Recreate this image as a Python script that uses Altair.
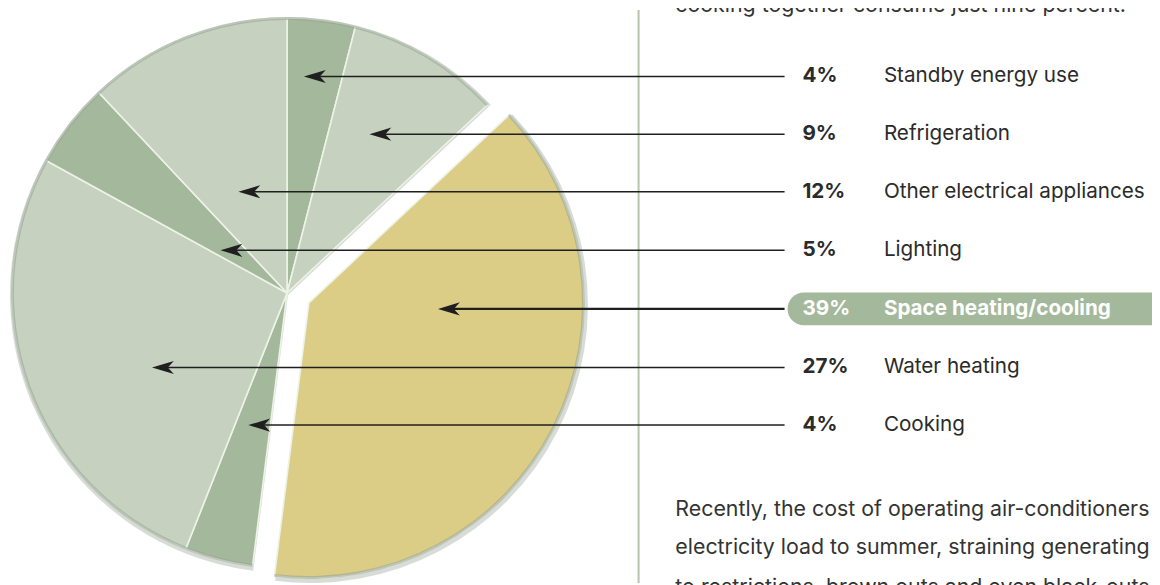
import altair as alt
import pandas as pd

# ---------------- data ----------------
pie_categories = ["Standby energy use", "Refrigeration", "Space heating/cooling",
                  "Cooking", "Water heating", "Lighting", "Other electrical appliances"]
pie_values = [4, 9, 39, 4, 27, 5, 12]
pie_colors = ["#a4b99c", "#c6d2bf", "#dccd86", "#a4b99c", "#c6d2bf", "#a4b99c", "#c6d2bf"]

row_categories = ["Standby energy use", "Refrigeration", "Other electrical appliances",
                  "Lighting", "Space heating/cooling", "Water heating", "Cooking"]
row_pcts = ["4%", "9%", "12%", "5%", "39%", "27%", "4%"]

top_text = ["cooking together consume just nine percent."]
body_text = ["Recently, the cost of operating air-conditioners",
             "electricity load to summer, straining generating",
             "to restrictions, brown outs and even black-outs"]

# ---------------- layout ----------------
W, H = 1152, 577
row_y = [75, 133, 191, 250, 309, 368, 426]          # page y of each callout row
tip_x = [306, 372, 240, 222, 441, 153, 250]         # page x of arrow tips
line_end = 790
pct_x, lab_x = 808, 890
CX, CY, R = 289, 293, 277                           # page coords of pie centre
DX, DY = 22, 10                                     # explode offset

FONT = "Inter"
FS_ROW = 20.8
FS_PARA = 21.5

xs = alt.Scale(domain=[8, 8 + W], range=[0, W])
ys = alt.Scale(domain=[8, 8 + H], range=[0, H])

pie_df = pd.DataFrame({
    "category": pie_categories,
    "value": pie_values,
    "color": pie_colors,
    "order": list(range(len(pie_values))),
})

base = (alt.Chart(pie_df)
        .transform_window(end="sum(value)", sort=[alt.SortField("order")], frame=[None, 0])
        .transform_calculate(start="datum.end - datum.value"))

theta = alt.Theta("start:Q", scale=alt.Scale(domain=[0, 100]))
theta2 = alt.Theta2("end:Q")

is_space = "datum.category == 'Space heating/cooling'"
not_space = "datum.category != 'Space heating/cooling'"

def arcs(filt, cx, cy):
    px, py = cx - 8, cy - 8
    shadow = base.transform_filter(filt).mark_arc(
        radius=R + 3, color="#8e9a8a", opacity=0.35
    ).encode(theta=theta, theta2=theta2, x=alt.value(px + 1), y=alt.value(py + 2))
    fill = base.transform_filter(filt).mark_arc(
        radius=R, stroke="#eef3e8", strokeWidth=1.6
    ).encode(theta=theta, theta2=theta2,
             color=alt.Color("color:N", scale=None),
             x=alt.value(px), y=alt.value(py))
    rim = base.transform_filter(filt).mark_arc(
        radius=R + 1, innerRadius=R - 2, color="#95a391", opacity=0.55
    ).encode(theta=theta, theta2=theta2, x=alt.value(px), y=alt.value(py))
    return [shadow, fill, rim]

pie_layers = arcs(not_space, CX, CY) + arcs(is_space, CX + DX, CY + DY)

rows_df = pd.DataFrame({
    "category": row_categories,
    "pct": row_pcts,
    "y": row_y,
    "tip": tip_x,
    "hl": [c == "Space heating/cooling" for c in row_categories],
})
rows_df["line_start"] = rows_df["tip"] + 6
rows_df["line_end"] = line_end
rows_df["head_x"] = rows_df["tip"] + 11
rows_df["sw"] = rows_df["hl"].map({True: 2.4, False: 1.5})
rows_df["pct_x"] = pct_x
rows_df["lab_x"] = lab_x
rows_df["tcolor"] = rows_df["hl"].map({True: "#ffffff", False: "#2b2b2b"})

rows = alt.Chart(rows_df)

lines = rows.mark_rule(color="#1f1f1f").encode(
    x=alt.X("line_start:Q", scale=xs, axis=None),
    x2="line_end:Q",
    y=alt.Y("y:Q", scale=ys, axis=None),
    strokeWidth=alt.StrokeWidth("sw:Q", scale=None),
)

arrow_path = "M -1 0 L 1 -0.6 L 0.45 0 L 1 0.6 Z"
heads = rows.mark_point(shape=arrow_path, filled=True, size=484, color="#1f1f1f",
                        opacity=1).encode(
    x=alt.X("head_x:Q", scale=xs, axis=None),
    y=alt.Y("y:Q", scale=ys, axis=None),
)

pill = rows.transform_filter("datum.hl").transform_calculate(
    x1="793", x2="1175", y1="datum.y - 16.5", y2="datum.y + 16.5"
).mark_rect(color="#a4b99c", cornerRadius=16.5).encode(
    x=alt.X("x1:Q", scale=xs, axis=None), x2="x2:Q",
    y=alt.Y("y1:Q", scale=ys, axis=None), y2="y2:Q",
)

pct_text = rows.mark_text(align="left", baseline="middle", font=FONT, fontSize=FS_ROW,
                          fontWeight="bold").encode(
    x=alt.X("pct_x:Q", scale=xs, axis=None),
    y=alt.Y("y:Q", scale=ys, axis=None),
    text="pct:N",
    color=alt.Color("tcolor:N", scale=None),
)
lab_text_plain = rows.transform_filter("!datum.hl").mark_text(
    align="left", baseline="middle", font=FONT, fontSize=FS_ROW, color="#2b2b2b").encode(
    x=alt.X("lab_x:Q", scale=xs, axis=None),
    y=alt.Y("y:Q", scale=ys, axis=None),
    text="category:N",
)
lab_text_hl = rows.transform_filter("datum.hl").mark_text(
    align="left", baseline="middle", font=FONT, fontSize=FS_ROW, fontWeight="bold",
    color="#ffffff").encode(
    x=alt.X("lab_x:Q", scale=xs, axis=None),
    y=alt.Y("y:Q", scale=ys, axis=None),
    text="category:N",
)

sep = alt.Chart(pd.DataFrame({"x": [643]})).mark_rule(color="#b4c7ac", strokeWidth=2).encode(
    x=alt.X("x:Q", scale=xs, axis=None), y=alt.value(0), y2=alt.value(H)
)

para_df = pd.DataFrame({
    "text": top_text + body_text,
    "y": [4, 512, 550, 590],
    "x": [680] * 4,
})
para = alt.Chart(para_df).mark_text(align="left", baseline="middle", font=FONT,
                                    fontSize=FS_PARA, color="#333333").encode(
    x=alt.X("x:Q", scale=xs, axis=None),
    y=alt.Y("y:Q", scale=ys, axis=None),
    text="text:N",
)

chart = alt.layer(
    sep, *pie_layers, lines, heads, pill, pct_text, lab_text_plain, lab_text_hl, para
).properties(
    width=W, height=H, padding=0, autosize=alt.AutoSizeParams(type="none"),
    background="white",
).configure_view(stroke=None)

chart.save("out.html", embed_options={"renderer": "svg", "actions": False})
